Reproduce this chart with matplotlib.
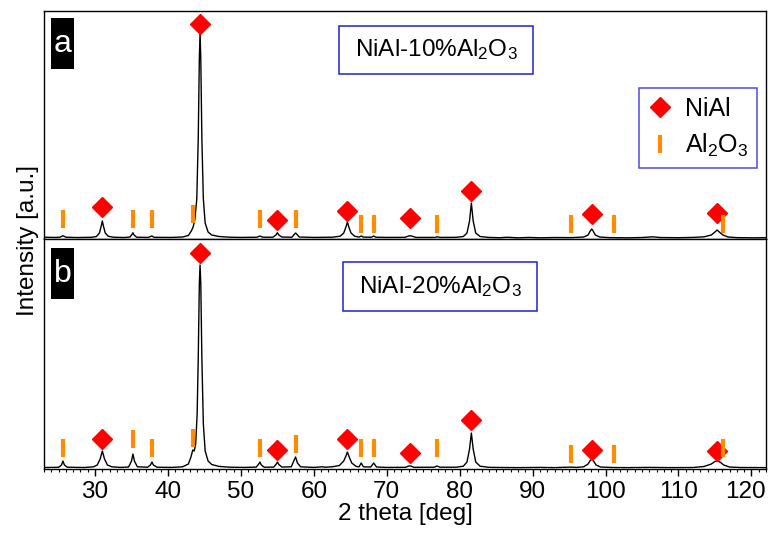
import matplotlib
matplotlib.use('Agg')
import matplotlib.pyplot as plt
from matplotlib.patches import Rectangle
from matplotlib.lines import Line2D
from matplotlib.ticker import MultipleLocator
from matplotlib.transforms import ScaledTranslation

plt.rcParams['font.family'] = ['Liberation Sans', 'DejaVu Sans']
plt.rcParams['mathtext.fontset'] = 'custom'
plt.rcParams['mathtext.rm'] = 'Liberation Sans'
plt.rcParams['mathtext.default'] = 'regular'

# XRD patterns: (2 theta, intensity a.u.)
pattern_a = [
    (23.0, 1.8), (24.5, 1.6), (25.2, 1.8), (25.6, 3.3), (26.0, 1.8), (27.5, 1.5),
    (29.5, 1.7), (30.2, 2.5), (30.6, 6), (30.85, 13), (31.0, 18), (31.15, 13),
    (31.4, 6), (31.8, 2.8), (32.5, 1.8), (34.0, 1.5), (34.8, 2.0), (35.1, 5),
    (35.2, 6.3), (35.35, 4), (35.7, 1.8), (37.3, 1.6), (37.7, 2.8), (37.8, 3.0),
    (38.1, 1.7), (40.5, 1.6), (42.0, 2.0), (42.8, 3.5), (43.2, 8), (43.45, 12),
    (43.7, 20), (43.95, 40), (44.15, 100), (44.3, 180), (44.4, 206), (44.5, 180),
    (44.65, 100), (44.85, 40), (45.1, 16), (45.5, 7), (46.0, 4), (47.0, 2.5),
    (48.5, 1.8), (50.0, 1.6), (52.2, 1.8), (52.6, 3.0), (53.0, 1.8), (54.4, 1.8),
    (54.8, 4), (55.0, 6.3), (55.2, 4), (55.6, 2), (57.0, 1.8), (57.3, 4.5),
    (57.5, 6), (57.7, 4.5), (58.0, 2.0), (60.0, 1.6), (62.5, 1.8), (63.6, 2.8),
    (64.1, 6), (64.4, 12), (64.6, 17), (64.8, 12), (65.1, 6), (65.6, 2.8),
    (66.2, 1.9), (66.5, 3), (66.8, 1.9), (67.9, 1.8), (68.2, 3), (68.5, 1.8),
    (70.0, 1.6), (72.5, 1.7), (73.0, 3), (73.2, 3.3), (73.5, 2.8), (74.0, 1.6),
    (76.6, 1.6), (76.9, 2.2), (77.3, 1.6), (79.5, 1.7), (80.5, 2.5), (81.0, 6),
    (81.35, 18), (81.6, 36), (81.85, 18), (82.2, 6), (82.8, 2.5), (84.0, 1.6),
    (85.5, 1.3), (86.5, 1.8), (88.0, 1.2), (89.5, 1.6), (91.0, 1.2), (93.0, 1.5),
    (95.3, 1.4), (97.0, 2.0), (97.6, 4), (97.9, 8), (98.1, 10), (98.3, 8),
    (98.6, 4), (99.2, 2), (100.5, 1.4), (103.0, 1.2), (105.0, 1.5), (106.5, 2.2),
    (107.5, 1.5), (110.0, 1.3), (112.0, 1.6), (113.5, 2.2), (114.5, 4), (115.0, 7),
    (115.3, 9), (115.6, 7), (116.1, 4), (116.8, 2), (118.0, 1.4), (120.0, 1.2),
    (122.0, 1.3),
]

pattern_b = [
    (23.0, 1.5), (25.0, 1.7), (25.4, 4), (25.6, 8), (25.8, 4), (26.2, 1.8),
    (28.5, 1.5), (29.8, 2.2), (30.3, 4), (30.7, 10), (31.0, 18), (31.3, 10),
    (31.7, 4), (32.3, 2.2), (33.5, 1.6), (34.6, 2), (35.0, 8), (35.2, 15),
    (35.4, 8), (35.8, 2.2), (37.2, 1.8), (37.6, 4), (37.8, 7), (38.0, 4),
    (38.5, 1.8), (40.5, 1.6), (42.0, 2.2), (42.8, 5), (43.15, 12), (43.4, 19),
    (43.6, 18), (43.8, 25), (44.0, 55), (44.15, 110), (44.3, 185), (44.4, 204),
    (44.5, 185), (44.65, 110), (44.85, 45), (45.1, 18), (45.5, 8), (46.0, 4.5),
    (47.0, 2.6), (48.5, 1.8), (50.5, 1.6), (52.1, 1.9), (52.45, 5), (52.6, 7),
    (52.8, 4), (53.2, 1.8), (54.5, 1.9), (54.85, 5), (55.0, 7), (55.2, 4.5),
    (55.6, 2), (56.9, 2.2), (57.25, 8), (57.5, 12), (57.75, 6), (58.2, 2.2),
    (60.0, 1.6), (61.2, 2.2), (61.6, 1.8), (62.5, 2.2), (63.5, 3.5), (64.1, 8),
    (64.4, 13), (64.6, 17), (64.85, 12), (65.2, 6), (65.8, 2.6), (66.2, 2.2),
    (66.5, 6), (66.8, 2.2), (67.8, 2.0), (68.2, 6), (68.6, 2), (70.0, 1.6),
    (72.6, 1.7), (73.0, 3), (73.3, 3), (73.7, 1.7), (76.5, 1.8), (76.9, 3),
    (77.3, 1.8), (79.5, 1.8), (80.5, 2.8), (81.0, 7), (81.35, 20), (81.6, 36),
    (81.85, 20), (82.2, 7), (82.8, 2.8), (84.0, 1.7), (86.0, 1.5), (88.0, 1.4),
    (91.0, 1.6), (93.0, 1.4), (95.3, 1.9), (96.0, 1.6), (97.0, 2.2), (97.6, 5),
    (97.9, 8.5), (98.1, 10), (98.35, 8), (98.7, 4), (99.3, 2), (101.0, 1.5),
    (103.0, 1.4), (106.0, 1.6), (109.0, 1.4), (112.0, 1.5), (113.5, 2.5),
    (114.5, 5), (115.0, 7.5), (115.3, 8), (115.7, 7), (116.2, 4), (117.0, 2),
    (118.5, 1.5), (122.0, 1.4),
]

# phase markers
nial_pos = [31.0, 44.4, 55.0, 64.6, 73.2, 81.6, 98.1, 115.3]
nial_y_a = [32, 215, 19, 28, 21, 48, 25, 26]
nial_y_b = [30, 216, 19, 30, 16, 49, 19, 18]

al2o3_pos = [25.6, 35.2, 37.8, 43.4, 52.6, 57.5, 66.5, 68.2, 76.9, 95.3, 101.1, 116.1]
al2o3_y_a = [20, 20, 20, 25, 20, 20, 15, 15, 15, 15, 15, 15]
al2o3_y_b = [21, 30, 21, 31, 21, 25, 21, 21, 21, 15, 15, 21]

x_ticks = [30, 40, 50, 60, 70, 80, 90, 100, 110, 120]
labels = ['NiAl-10%Al$_2$O$_3$', 'NiAl-20%Al$_2$O$_3$']
panels = ['a', 'b']

red = '#ff0000'
orange = '#ff8c00'
blue = '#2020d0'

fig = plt.figure(figsize=(7.69, 5.34), dpi=100)
ax_a = fig.add_axes([0.0572, 0.5524, 0.9389, 0.4270])
ax_b = fig.add_axes([0.0572, 0.1217, 0.9389, 0.4307])

data = [(ax_a, pattern_a, nial_y_a, al2o3_y_a, 228),
        (ax_b, pattern_b, nial_y_b, al2o3_y_b, 230)]

for i, (ax, pat, ny, ay, top) in enumerate(data):
    x, y = zip(*pat)
    ax.plot(x, y, color='black', lw=1.0)
    ax.plot(nial_pos, ny, ls='none', marker='D', ms=10, color=red, mec=red)
    ax.plot(al2o3_pos, ay, ls='none', marker='|', ms=13, mew=3, color=orange)
    ax.set_xlim(23, 122)
    ax.set_ylim(0, top)
    ax.set_yticks([])
    for s in ax.spines.values():
        s.set_linewidth(1.0)

    # sample label box
    if i == 0:
        bx, by, bw, bh = 0.4086, 0.7237, 0.2686, 0.2105
    else:
        bx, by, bw, bh = 0.414, 0.687, 0.269, 0.213
    ax.add_patch(Rectangle((bx, by), bw, bh, transform=ax.transAxes,
                           fill=False, ec=blue, lw=1.1))
    ax.text(bx + bw / 2, by + bh / 2, labels[i], transform=ax.transAxes,
            ha='center', va='center', fontsize=17.5)

    # panel letter
    if i == 0:
        py0, py1 = 0.7456, 0.969
    else:
        py0, py1 = 0.739, 0.961
    ax.add_patch(Rectangle((0.0097, py0), 0.0319, py1 - py0, transform=ax.transAxes,
                           color='black', lw=0))
    ax.text(0.0256, (py0 + py1) / 2, panels[i], transform=ax.transAxes,
            ha='center', va='center', fontsize=23, color='white')

ax_a.set_xticks([])
ax_b.set_xticks(x_ticks)
ax_b.set_xticklabels([str(t) for t in x_ticks])
ax_b.xaxis.set_minor_locator(MultipleLocator(1))
ax_b.tick_params(axis='x', which='major', direction='out', length=5, width=1, labelsize=17.5)
ax_b.tick_params(axis='x', which='minor', direction='out', length=2.5, width=0.8)
ax_b.set_xlabel('2 theta [deg]', fontsize=17.5, labelpad=0)

# the last label sits at the very edge; nudge it left a little
last = ax_b.get_xticklabels()[-1]
last.set_transform(last.get_transform() + ScaledTranslation(-4 / 72, 0, fig.dpi_scale_trans))

fig.text(0.036, 0.55, 'Intensity [a.u.]', rotation=90, ha='center', va='center', fontsize=17.5)

handles = [Line2D([], [], ls='none', marker='D', ms=10, color=red),
           Line2D([], [], ls='none', marker='|', ms=13, mew=3, color=orange)]
leg = ax_a.legend(handles, ['NiAl', 'Al$_2$O$_3$'], loc='upper right',
                  bbox_to_anchor=(0.9875, 0.662), fontsize=18, frameon=True,
                  fancybox=False, edgecolor=blue, handlelength=1.0,
                  handletextpad=0.5, borderpad=0.35, labelspacing=0.45,
                  borderaxespad=0)
leg.get_frame().set_linewidth(1.1)

fig.savefig('out.png', dpi=100)
